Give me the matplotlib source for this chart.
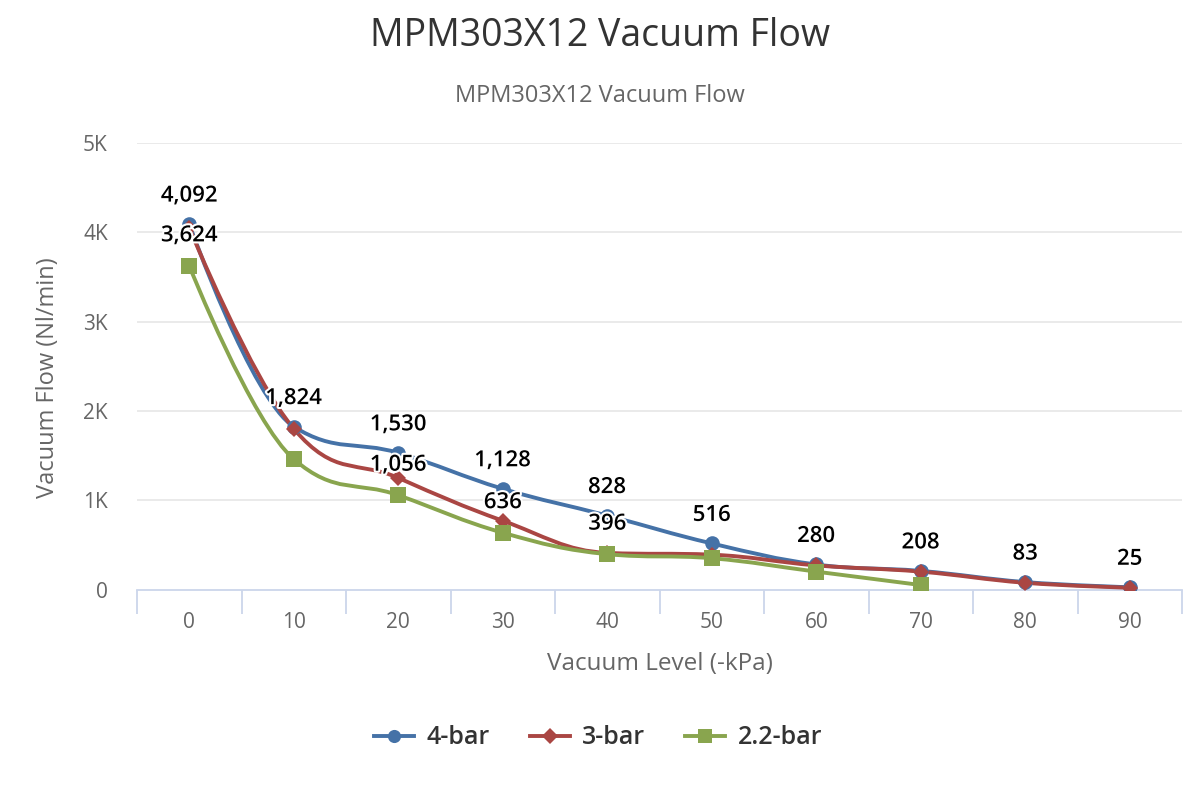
import matplotlib
matplotlib.use("Agg")
import matplotlib.pyplot as plt
from matplotlib.path import Path
from matplotlib.patches import PathPatch
from matplotlib.lines import Line2D
import matplotlib.patheffects as pe
import numpy as np

plt.rcParams['font.family'] = ['Open Sans', 'DejaVu Sans']

categories = ["0", "10", "20", "30", "40", "50", "60", "70", "80", "90"]
series_names = ["4-bar", "3-bar", "2.2-bar"]
bar4 = [4092, 1824, 1530, 1128, 828, 516, 280, 208, 83, 25]
bar3 = [4050, 1800, 1250, 770, 410, 390, 270, 200, 75, 20]
bar22 = [3624, 1460, 1056, 636, 396, 350, 200, 50]
# which data labels are visible (index lists)
labels4 = [0, 1, 2, 3, 4, 5, 6, 7, 8, 9]
labels3 = []
labels22 = [0, 2, 3, 4]

colors = ["#4572A7", "#AA4643", "#89A54E"]
markers = ["o", "D", "s"]
msizes = [10.5, 8.5, 11]


def spline_path(xs, ys, smoothing=1.5):
    denom = smoothing + 1
    n = len(xs)
    rc = [None] * n
    lc = [None] * n
    for i in range(1, n - 1):
        lx, ly = xs[i - 1], ys[i - 1]
        nx, ny = xs[i + 1], ys[i + 1]
        px, py = xs[i], ys[i]
        lcx = (smoothing * px + lx) / denom
        lcy = (smoothing * py + ly) / denom
        rcx = (smoothing * px + nx) / denom
        rcy = (smoothing * py + ny) / denom
        corr = 0
        if rcx != lcx:
            corr = ((rcy - lcy) * (rcx - px)) / (rcx - lcx) + py - rcy
        lcy += corr
        rcy += corr
        if lcy > ly and lcy > py:
            lcy = max(ly, py)
            rcy = 2 * py - lcy
        elif lcy < ly and lcy < py:
            lcy = min(ly, py)
            rcy = 2 * py - lcy
        if rcy > ny and rcy > py:
            rcy = max(ny, py)
            lcy = 2 * py - rcy
        elif rcy < ny and rcy < py:
            rcy = min(ny, py)
            lcy = 2 * py - rcy
        lc[i] = (lcx, lcy)
        rc[i] = (rcx, rcy)
    verts = [(xs[0], ys[0])]
    codes = [Path.MOVETO]
    for i in range(1, n):
        c1 = rc[i - 1] if rc[i - 1] is not None else (xs[i - 1], ys[i - 1])
        c2 = lc[i] if lc[i] is not None else (xs[i], ys[i])
        verts += [c1, c2, (xs[i], ys[i])]
        codes += [Path.CURVE4] * 3
    return Path(verts, codes)


fig = plt.figure(figsize=(12, 8), dpi=100)
ax = fig.add_axes([137 / 1200, 1 - 589.5 / 800, (1182 - 137) / 1200, (589.5 - 143) / 800])
ax.set_xlim(-0.5, len(categories) - 0.5)
ax.set_ylim(0, 5000)

all_series = [bar4, bar3, bar22]
all_labels = [labels4, labels3, labels22]
offsets = [28, 28, 30]
for k, (vals, col, mk, ms) in enumerate(zip(all_series, colors, markers, msizes)):
    xs = list(range(len(vals)))
    p = spline_path(xs, vals)
    ax.add_patch(PathPatch(p, facecolor="none", edgecolor=col, lw=2.8, zorder=3 + k * 0.1,
                           capstyle="round", joinstyle="round"))
    ax.plot(xs, vals, linestyle="none", marker=mk, color=col, markersize=ms,
            markeredgewidth=0, zorder=4 + k * 0.1)

for k, (vals, idxs) in enumerate(zip(all_series, all_labels)):
    for i in idxs:
        ax.annotate(f"{vals[i]:,}", (i, vals[i]), xytext=(0, offsets[k]),
                    textcoords="offset pixels", ha="center", va="center",
                    fontsize=16, fontweight="semibold", color="black", zorder=10,
                    path_effects=[pe.withStroke(linewidth=3, foreground="white")])

# grid
for v in range(1000, 5001, 1000):
    ax.axhline(v, color="#e6e6e6", lw=1.2, zorder=1)
ax.set_yticks(range(0, 5001, 1000))
ax.set_yticklabels(["0", "1K", "2K", "3K", "4K", "5K"])
ax.set_xticks(range(len(categories)))
ax.set_xticklabels(categories)
ax.set_xticks(np.arange(-0.5, len(categories), 1), minor=True)
ax.tick_params(axis="x", which="major", length=0, pad=16, labelsize=15, labelcolor="#666666")
ax.tick_params(axis="x", which="minor", length=17, width=1.3, color="#ccd6eb")
ax.tick_params(axis="y", length=0, pad=21, labelsize=15, labelcolor="#666666")
for s in ["top", "right", "left"]:
    ax.spines[s].set_visible(False)
ax.spines["bottom"].set_color("#ccd6eb")
ax.spines["bottom"].set_linewidth(1.3)
ax.set_facecolor("none")

fig.text(0.5, 1 - 36 / 800, "MPM303X12 Vacuum Flow", ha="center", va="center",
         fontsize=27, color="#333333")
fig.text(0.5, 1 - 96 / 800, "MPM303X12 Vacuum Flow", ha="center", va="center",
         fontsize=17, color="#666666")
fig.text(48 / 1200, 1 - 378 / 800, "Vacuum Flow (Nl/min)", ha="center", va="center",
         rotation=90, fontsize=17, color="#666666")
fig.text(660 / 1200, 1 - 664 / 800, "Vacuum Level (-kPa)", ha="center", va="center",
         fontsize=17.5, color="#666666")

handles = [Line2D([0], [0], color=c, lw=2.8, marker=m, markersize=s * 0.9, markeredgewidth=0)
           for c, m, s in zip(colors, markers, msizes)]
leg = fig.legend(handles, series_names, loc="center", bbox_to_anchor=(598 / 1200, 1 - 738 / 800),
                 ncol=3, frameon=False, fontsize=18, handlelength=1.6, columnspacing=1.6,
                 handletextpad=0.5)
for t in leg.get_texts():
    t.set_color("#333333")
    t.set_fontweight("semibold")

fig.savefig("out.png", dpi=100)
